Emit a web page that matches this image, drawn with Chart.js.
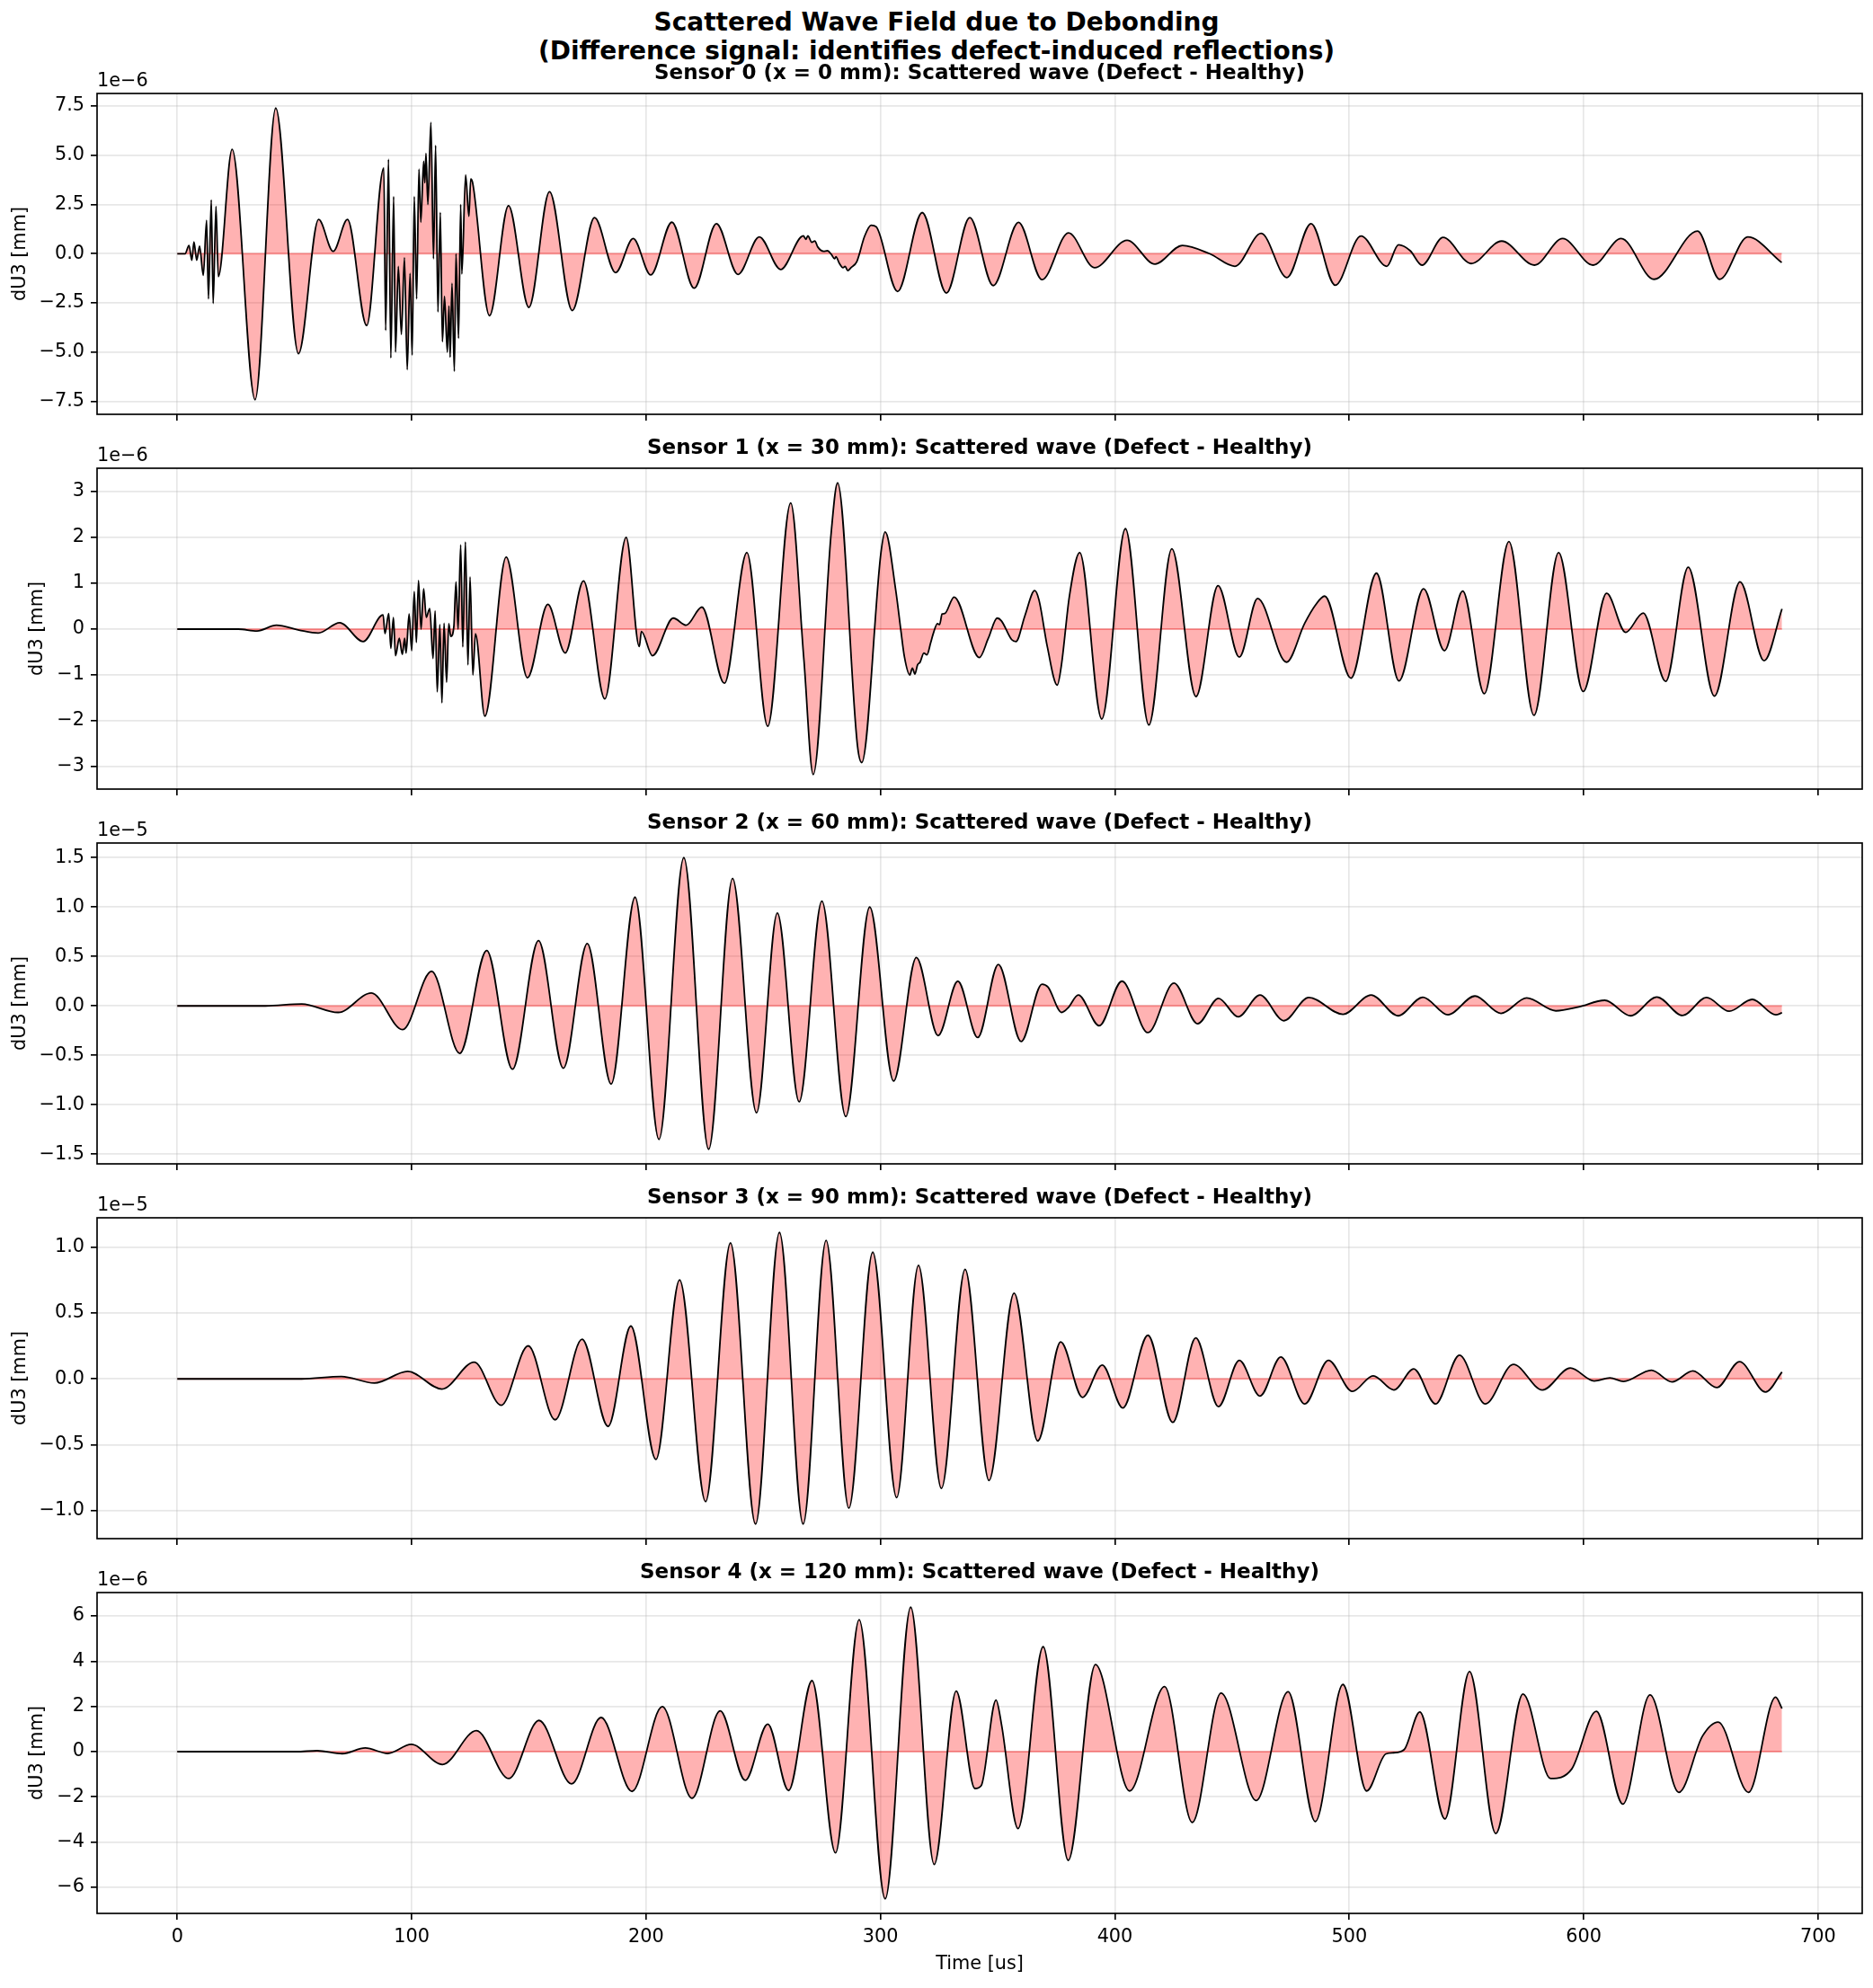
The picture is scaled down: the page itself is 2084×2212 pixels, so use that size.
<!DOCTYPE html>
<html>
<head>
<meta charset="utf-8">
<script src="https://cdn.jsdelivr.net/npm/chart.js@4.4.1/dist/chart.umd.min.js"></script>
<style>
  body { margin: 0; background: #fff; width: 2084px; height: 2212px; position: relative; overflow: hidden; font-family: "DejaVu Sans", sans-serif; }
  .sup { position: absolute; left: 0; top: 9px; width: 2084px; text-align: center; font-weight: bold; font-size: 28px; line-height: 32px; color: #000; }
  .off { position: absolute; left: 108px; font-size: 20.8px; line-height: 24px; color: #000; }
  canvas { position: absolute; left: 0; }
</style>
</head>
<body>
<div class="sup">Scattered Wave Field due to Debonding<br>(Difference signal: identifies defect-induced reflections)</div>
<script>
// times in us, values in the unit shown by each panel's offset label (1e-6 / 1e-5 mm)
const s0T = [0, 3.3, 5.0, 6.2, 7.1, 8.3, 9.5, 11.1, 12.5, 13.3, 14.5, 15.3, 16.5, 17.5, 23.4, 33.2, 42.0, 51.7, 60.3, 66.5, 72.6, 80.8,
  88.1, 88.9, 90.1, 91.1, 92.3, 93.1, 94.3, 95.6, 96.9, 98.1, 99.3, 100.2, 101.1, 102.1, 103.1, 103.9, 105.1, 105.6, 106.1, 106.9, 108.2,
  109.3, 110.2, 111.2, 112.2, 113.1, 114.0, 115.2, 115.9, 116.4, 117.2, 118.2, 118.9, 120.0, 120.9, 121.4, 123.0, 124.4, 125.2, 126.0,
  133.2, 141.3, 150.0, 158.8, 168.5, 178.0, 187.0, 194.5, 202.0, 211.0, 220.5, 230.0, 239.2, 248.3, 257.4,
  267.1, 268.2, 269.0, 270.7, 272.0, 273.2, 275.7, 277.4, 279.0, 280.4, 281.0, 282.4, 284.0, 284.9, 286.0, 287.4,
  289.9, 293.2, 296.0, 298.2, 307.3, 317.8, 328.1, 338.1, 348.1, 358.9, 368.9, 380.2, 391.3, 405.2, 417.1, 428.8, 440.4, 451.2, 462.4,
  473.4, 483.7, 494.0, 505.0, 516.0, 521.0, 526.0, 531.0, 540.0, 552.0, 565.0, 579.0, 591.0, 604.0, 616.0, 630.0, 648.6, 658.0, 670.0, 684.5];
const s0V = [0, 0, 0.42, -0.33, 0.6, -0.33, 0.38, -1.1, 1.7, -2.3, 2.74, -2.53, 2.4, -1.17, 5.3, -7.42, 7.4, -5.08, 1.74, 0.12, 1.74, -3.65,
  4.36, -3.9, 4.8, -5.3, 2.9, -5.0, -0.64, -4.1, -0.2, -5.9, -1.0, -5.15, 2.9, -2.3, 4.3, 1.6, 4.7, 3.6, 5.1, 2.5, 6.67,
  -0.26, 5.5, -2.96, 2.1, -4.47, -2.16, -5.0, -2.65, -5.26, -1.5, -5.98, 0, -4.3, 2.5, -1.03, 4.0, 1.9, 3.8, 3.6,
  -3.15, 2.44, -2.73, 3.15, -2.89, 1.83, -0.96, 0.77, -1.08, 1.6, -1.75, 1.53, -1.05, 0.85, -0.8,
  0.91, 0.73, 0.91, 0.58, 0.65, 0.35, 0.12, 0.15, -0.03, -0.26, -0.15, -0.48, -0.71, -0.64, -0.86, -0.71,
  -0.4, 0.88, 1.45, 1.36, -1.92, 2.09, -2.0, 1.83, -1.62, 1.59, -1.32, 1.06, -0.71, 0.68, -0.53, 0.42, 0.0, -0.64, 1.03,
  -1.21, 1.53, -1.6, 0.9, -0.64, 0.45, 0.15, -0.58, 0.83, -0.5, 0.64, -0.58, 0.77, -0.58, 0.77, -1.3, 1.15, -1.3, 0.85, -0.45];

const s1T = [0, 26, 34, 42.3, 51.9, 60.1, 69.3, 79.3, 87.8, 88.6, 90.2, 91.1, 92.2, 93.1, 94.7, 96.0, 97.0, 97.6, 98.9, 100.0, 101.1,
  102.0, 102.9, 104.0, 105.1, 106.2, 107.7, 109.1, 110.0, 110.9, 112.0, 112.9, 113.8, 114.9, 115.8, 116.7, 118.0, 118.9, 119.8, 120.9,
  121.8, 122.9, 124.0, 124.9, 126.1, 127.2, 131.2, 140.3, 149.4, 158.1, 165.5, 173.3, 182.4, 191.5, 197.1, 198.0, 202.7, 211.6, 217.1,
  223.8, 233.4, 243.0, 251.9, 261.7, 267.3, 271.3, 279.0, 281.7, 290.2, 292.0, 300.2, 302.0,
  306.5, 308.7, 310.2, 312.5, 313.6, 314.7, 315.8, 316.9, 318.5, 319.8, 321.4, 322.5, 324.3, 325.2, 326.3, 327.4,
  331.4, 342.2, 346.0, 349.8, 351.6, 356.0, 357.8, 361.6, 365.8, 367.6, 371.2, 375.4, 377.2, 380.6, 385.0, 394.4, 404.5,
  414.5, 424.3, 434.6, 444.0, 453.1, 460.9, 473.2, 481.0, 485.5, 489.5, 500.7, 511.6, 521.2, 531.7, 540.6, 548.4, 557.6, 568.1, 578.8,
  589.3, 599.8, 609.8, 617.9, 625.4, 635.0, 644.6, 655.8, 666.7, 677.0, 684.6];
const s1V = [0, 0, -0.04, 0.085, -0.02, -0.085, 0.14, -0.27, 0.31, -0.1, 0.34, -0.42, 0.25, -0.58, -0.2, -0.55, -0.2, -0.52, 0.33, -0.47, 0.82,
  -0.29, 1.06, 0.0, 0.88, 0.26, 0.45, -0.64, 0.4, -1.37, 0.1, -1.61, 0.13, -1.16, 0.12, -0.16, 0.06, 1.03, 0.0, 1.84,
  -0.39, 1.9, -0.78, 1.14, -1.0, -0.1, -1.9, 1.57, -1.06, 0.54, -0.52, 1.05, -1.52, 2.0, -0.38, -0.05, -0.58, 0.24, 0.085,
  0.48, -1.18, 1.67, -2.12, 2.75, -0.65, -3.17, 2.12, 3.19, -2.55, -2.91, 1.67, 2.12,
  0.85, -0.03, -0.6, -1.0, -0.85, -0.98, -0.78, -0.72, -0.52, -0.56, -0.3, -0.1, 0.12, 0.1, 0.33, 0.34,
  0.7, -0.62, -0.2, 0.24, 0.18, -0.23, -0.27, 0.29, 0.84, 0.64, -0.39, -1.22, -0.78, 0.72, 1.67, -1.96, 2.19,
  -2.09, 1.75, -1.47, 0.95, -0.61, 0.67, -0.72, 0.13, 0.52, 0.72, -1.07, 1.22, -1.13, 0.88, -0.47, 0.83, -1.41, 1.91, -1.88,
  1.67, -1.36, 0.78, -0.07, 0.35, -1.14, 1.35, -1.46, 1.03, -0.69, 0.44];

const s2T = [0, 37.6, 53.1, 68.6, 82.8, 96.1, 108.5, 120.5, 132.0, 143.0, 154.1, 164.7, 174.9, 185.1, 195.3, 205.5, 216.1, 226.7, 236.9,
  247.1, 256.0, 265.3, 275.0, 285.2, 295.4, 305.6, 315.3, 324.6, 333.0, 341.5, 350.3, 360.0, 368.9, 371.5, 377.3, 380.0, 384.4, 393.3,
  403.0, 414.1, 425.2, 435.3, 444.2, 452.6, 461.9, 472.1, 482.7, 497.3, 509.3, 520.8, 531.4, 542.1, 553.6, 564.7, 575.7, 588.1, 597.9,
  609.0, 620.0, 631.2, 642.2, 652.4, 662.1, 671.9, 682.0, 684.6];
const s2V = [0, 0, 0.02, -0.066, 0.13, -0.24, 0.35, -0.48, 0.56, -0.64, 0.66, -0.63, 0.63, -0.79, 1.1, -1.35, 1.5, -1.45, 1.29,
  -1.08, 0.94, -0.97, 1.06, -1.12, 1.0, -0.76, 0.49, -0.3, 0.25, -0.32, 0.42, -0.36, 0.22, 0.19, -0.066, -0.02, 0.11, -0.2,
  0.25, -0.27, 0.23, -0.18, 0.076, -0.11, 0.11, -0.15, 0.085, -0.085, 0.11, -0.1, 0.088, -0.09, 0.1, -0.076, 0.08, -0.05, -0.01,
  0.057, -0.1, 0.09, -0.097, 0.085, -0.054, 0.066, -0.09, -0.07];

const s3T = [0, 53, 70.0, 84.1, 98.3, 112.9, 126.7, 138.2, 149.7, 161.2, 172.7, 183.8, 193.5, 204.2, 214.3, 225.4, 236.0, 246.7, 256.9,
  267.0, 276.8, 286.5, 296.7, 306.9, 316.2, 326.0, 336.1, 346.3, 357.0, 367.1, 376.9, 386.2, 394.6, 403.4, 414.1, 424.7, 434.5, 444.2,
  453.1, 461.9, 470.8, 481.0, 491.1, 501.3, 510.2, 519.0, 527.5, 536.8, 547.0, 558.0, 570.0, 582.4, 594.3, 604.5, 611.2, 617.0, 628.9,
  637.7, 646.6, 656.8, 666.5, 677.6, 684.6];
const s3V = [0, 0, 0.018, -0.032, 0.057, -0.077, 0.127, -0.2, 0.25, -0.31, 0.3, -0.36, 0.4, -0.61, 0.75, -0.93, 1.03, -1.1, 1.11,
  -1.1, 1.05, -0.98, 0.96, -0.9, 0.86, -0.83, 0.83, -0.77, 0.65, -0.47, 0.28, -0.14, 0.105, -0.22, 0.33, -0.33, 0.31, -0.21,
  0.14, -0.13, 0.166, -0.19, 0.14, -0.095, 0.023, -0.084, 0.075, -0.19, 0.18, -0.19, 0.11, -0.084, 0.082, -0.016, 0.007, -0.02, 0.066,
  -0.023, 0.061, -0.066, 0.13, -0.1, 0.052];

const s4T = [0, 50.8, 59.7, 70.4, 80.2, 89.8, 99.8, 113.1, 127.6, 141.4, 154.3, 168.2, 180.8, 194.0, 206.9, 219.6, 231.6, 242.3, 251.9,
  260.8, 270.8, 280.8, 290.9, 302.0, 312.9, 322.9, 332.3, 340.3, 343.0, 349.3, 351.6, 358.7, 369.4, 380.1, 391.7, 406.3, 421.2, 433.0,
  445.3, 460.3, 473.9, 485.5, 497.3, 507.4, 515.6, 519.0, 523.4, 530.1, 540.8, 551.3, 562.5, 574.1, 585.9, 594.9, 605.4, 616.7, 628.3,
  640.6, 650.7, 657.4, 670.3, 681.9, 684.6];
const s4V = [0, 0, 0.04, -0.09, 0.16, -0.08, 0.32, -0.57, 0.93, -1.19, 1.38, -1.43, 1.51, -1.76, 1.99, -2.06, 1.8, -1.27, 1.22,
  -1.72, 3.14, -4.48, 5.84, -6.51, 6.39, -4.99, 2.68, -1.63, -1.5, 2.28, 1.22, -3.4, 4.64, -4.81, 3.85, -1.74, 2.88, -3.13,
  2.59, -2.16, 2.65, -3.09, 2.97, -1.74, -0.1, -0.05, 0.09, 1.75, -2.98, 3.54, -3.62, 2.55, -1.19, -0.77, 1.78, -2.32, 2.51,
  -1.8, 0.69, 1.31, -1.8, 2.41, 1.91];

const sensorTitles = [
  'Sensor 0 (x = 0 mm): Scattered wave (Defect - Healthy)',
  'Sensor 1 (x = 30 mm): Scattered wave (Defect - Healthy)',
  'Sensor 2 (x = 60 mm): Scattered wave (Defect - Healthy)',
  'Sensor 3 (x = 90 mm): Scattered wave (Defect - Healthy)',
  'Sensor 4 (x = 120 mm): Scattered wave (Defect - Healthy)'
];
const offsetLabels = ['1e\u22126', '1e\u22126', '1e\u22125', '1e\u22125', '1e\u22126'];
const timeTicks = [0, 100, 200, 300, 400, 500, 600, 700];
const yTicks = [
  [-7.5, -5, -2.5, 0, 2.5, 5, 7.5],
  [-3, -2, -1, 0, 1, 2, 3],
  [-1.5, -1, -0.5, 0, 0.5, 1, 1.5],
  [-1, -0.5, 0, 0.5, 1],
  [-6, -4, -2, 0, 2, 4, 6]
];
const yDecimals = [1, 0, 1, 1, 0];

const series = [[s0T, s0V], [s1T, s1V], [s2T, s2V], [s3T, s3V], [s4T, s4V]];

// layout (px)
const W = 2084, H = 2212;
const panelTop = [104, 521, 938, 1355, 1772];
const axH = 357, axLeft = 108, axRight = 2072;
const titleBox = 36;
const yLabelPad = [10, 29, 10, 10, 29];

Chart.defaults.font.family = '"DejaVu Sans", sans-serif';
Chart.defaults.font.size = 20.8;
Chart.defaults.color = '#000';

// matplotlib-like shared x limits (5% margins)
const tAll = series.flatMap(s => s[0]);
const tLo = Math.min(...tAll), tHi = Math.max(...tAll);
const xMin = tLo - 0.05 * (tHi - tLo), xMax = tHi + 0.05 * (tHi - tLo);

const frame = {
  id: 'frame',
  afterDatasetsDraw(c) {
    const a = c.chartArea, ctx = c.ctx;
    ctx.save();
    ctx.strokeStyle = '#000';
    ctx.lineWidth = 1.67;
    ctx.strokeRect(a.left, a.top, a.right - a.left, a.bottom - a.top);
    ctx.restore();
  }
};

const gridOpts = { color: 'rgba(176,176,176,0.3)', lineWidth: 1.67, tickColor: '#000', tickLength: 7, tickWidth: 1.67 };

series.forEach(([t, v], i) => {
  const last = i === series.length - 1;
  const top = panelTop[i] - titleBox;
  const h = last ? H - top : 403;
  const xH = h - titleBox - axH;

  const cv = document.createElement('canvas');
  cv.width = W; cv.height = h;
  cv.style.top = top + 'px';
  document.body.appendChild(cv);

  const off = document.createElement('div');
  off.className = 'off';
  off.style.top = (panelTop[i] - 27) + 'px';
  off.textContent = offsetLabels[i];
  document.body.appendChild(off);

  const lo = Math.min(...v), hi = Math.max(...v), m = 0.05 * (hi - lo);

  new Chart(cv, {
    type: 'line',
    data: {
      datasets: [{
        data: t.map((x, k) => ({ x: x, y: v[k] })),
        borderColor: '#000',
        borderWidth: 1.8,
        backgroundColor: 'rgba(255,0,0,0.3)',
        fill: 'origin',
        pointRadius: 0,
        cubicInterpolationMode: 'monotone'
      }, {
        data: [{ x: t[0], y: 0 }, { x: t[t.length - 1], y: 0 }],
        borderColor: 'rgba(255,0,0,0.3)',
        borderWidth: 2,
        pointRadius: 0,
        fill: false
      }]
    },
    options: {
      responsive: false,
      animation: false,
      devicePixelRatio: 1,
      layout: { padding: { left: 0, right: W - axRight, top: 0, bottom: 0 } },
      plugins: {
        legend: { display: false },
        tooltip: { enabled: false },
        title: {
          display: true,
          text: sensorTitles[i],
          fullSize: false,
          font: { size: 23, weight: 'bold' },
          color: '#000',
          padding: { top: 0, bottom: 8.4 }
        }
      },
      scales: {
        x: {
          type: 'linear',
          min: xMin,
          max: xMax,
          afterBuildTicks: s => { s.ticks = timeTicks.map(value => ({ value })); },
          afterFit: s => { s.height = xH; s.paddingLeft = 0; s.paddingRight = 0; },
          grid: gridOpts,
          border: { display: false },
          ticks: { display: last, padding: 7, maxRotation: 0, autoSkip: false, color: '#000' },
          title: { display: last, text: 'Time [us]', color: '#000', padding: { top: 0, bottom: 14 } }
        },
        y: {
          type: 'linear',
          min: lo - m,
          max: hi + m,
          afterBuildTicks: s => { s.ticks = yTicks[i].map(value => ({ value })); },
          afterFit: s => { s.width = axLeft; s.paddingTop = 0; s.paddingBottom = 0; },
          grid: gridOpts,
          border: { display: false },
          ticks: {
            padding: 7,
            color: '#000',
            callback: val => val.toFixed(yDecimals[i]).replace('-', '\u2212')
          },
          title: { display: true, text: 'dU3 [mm]', color: '#000', padding: { top: yLabelPad[i], bottom: 0 } }
        }
      }
    },
    plugins: [frame]
  });
});
</script>
</body>
</html>
